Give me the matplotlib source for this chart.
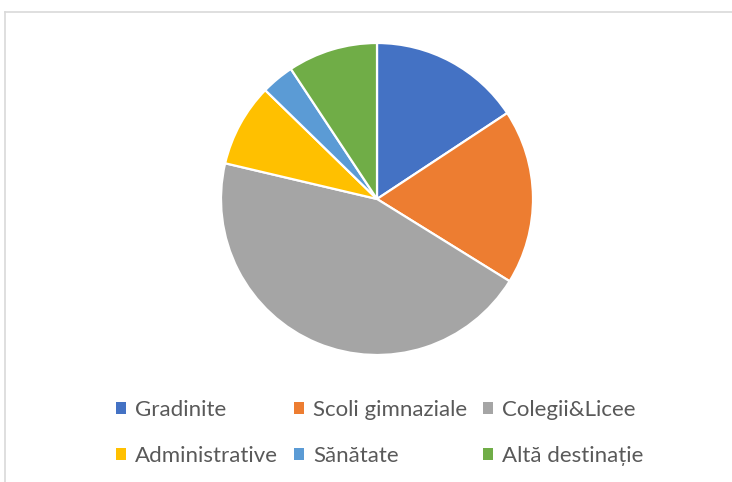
import matplotlib.pyplot as plt
from matplotlib.lines import Line2D

# date
categorii = ['Gradinite', 'Scoli gimnaziale', 'Colegii&Licee',
             'Administrative', 'Sănătate', 'Altă destinație']
valori = [15.7, 18.1, 44.8, 8.6, 3.4, 9.3]
culori = ['#4472C4', '#ED7D31', '#A5A5A5', '#FFC000', '#5B9BD5', '#70AD47']

plt.rcParams['font.family'] = ['Lato', 'DejaVu Sans']

fig = plt.figure(figsize=(7.32, 4.82), dpi=100)

# chenarul graficului (doar stanga si sus se vad)
fig.add_artist(Line2D([5 / 732, 5 / 732], [0, 1 - 12 / 482], transform=fig.transFigure,
                      color='#D9D9D9', lw=1.2))
fig.add_artist(Line2D([5 / 732, 1], [1 - 12 / 482, 1 - 12 / 482], transform=fig.transFigure,
                      color='#D9D9D9', lw=1.2))

# pie centrat la (377, 199) px, raza ~156 px
r = 156
ax = fig.add_axes([(377 - r) / 732, (482 - 199 - r) / 482, 2 * r / 732, 2 * r / 482])
wedges, _ = ax.pie(valori, colors=culori, startangle=90, counterclock=False,
                   wedgeprops=dict(edgecolor='white', linewidth=1.6))
ax.set_xlim(-1, 1)
ax.set_ylim(-1, 1)
ax.set_aspect('equal')
ax.axis('off')

# legenda pe randuri (matplotlib umple pe coloane, deci reordonam)
ordine = [0, 3, 1, 4, 2, 5]
leg = fig.legend([wedges[i] for i in ordine], [categorii[i] for i in ordine],
                 ncol=3, loc='center', bbox_to_anchor=(0.519, 1 - 433 / 482),
                 frameon=False, fontsize=16, handlelength=0.45, handleheight=0.45,
                 handletextpad=0.4, columnspacing=0.72, labelspacing=1.2,
                 labelcolor='#595959')
for h in leg.legend_handles:
    h.set_edgecolor('none')

fig.savefig('out.png', dpi=100)
